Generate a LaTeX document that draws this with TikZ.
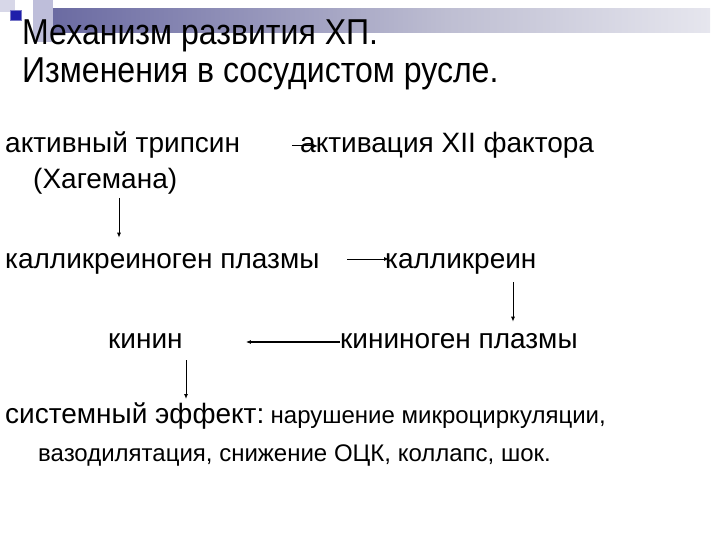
\documentclass[tikz,border=0pt]{standalone}
\usepackage{fontspec}
\setmainfont{Liberation Sans}
\newfontfamily\ttlfont[FakeStretch=0.89]{Liberation Sans}
\usetikzlibrary{arrows.meta,calc}
\definecolor{bc1}{RGB}{40,40,120}
\definecolor{bc2}{RGB}{120,120,170}
\definecolor{bc3}{RGB}{190,190,210}
\definecolor{bc4}{RGB}{240,240,245}
\definecolor{lav1}{RGB}{215,215,232}
\definecolor{lav2}{RGB}{190,190,218}
\definecolor{sqfill}{RGB}{30,30,170}
\definecolor{sqedge}{RGB}{120,120,200}
\pgfdeclarehorizontalshading{barshade}{100bp}{color(0bp)=(bc1); color(30bp)=(bc2); color(55bp)=(bc3); color(80bp)=(bc4); color(100bp)=(white)}
\begin{document}
\begin{tikzpicture}[x=1pt,y=-1pt,
  ttl/.style={inner sep=0pt, anchor=base west, font=\ttlfont\fontsize{36}{42}\selectfont},
  txt/.style={inner sep=0pt, anchor=base west, font=\fontsize{28}{33}\selectfont},
  sml/.style={inner sep=0pt, anchor=base west, font=\fontsize{24}{29}\selectfont},
  arr/.style={draw=black, line width=1pt, -{Latex[length=5pt,width=4pt]}}]
\useasboundingbox (0,0) rectangle (720,540);
% header decoration
\fill[lav1] (0,0) rectangle (15,12);
\fill[lav2] (33,0) rectangle (53,42);
\shade[shading=barshade] (53,9) rectangle (710,33);
\fill[sqfill, draw=sqedge, line width=1pt] (10,11) rectangle (21,21);
% title
\node[ttl] (t1) at (22,45) {Механизм развития ХП.};
\node[ttl] (t2) at (22,83) {Изменения в сосудистом русле.};
% text nodes
\node[txt] (tryp) at (5,153) {активный трипсин};
\node[txt] (act) at (300,153) {активация XII фактора};
\node[txt] (hag) at (33,189) {(Хагемана)};
\node[txt] (kal) at (5,268) {калликреиноген плазмы};
\node[txt] (kalr) at (385,268) {калликреин};
\node[txt] (kin) at (108,348) {кинин};
\node[txt] (kinog) at (340,348) {кининоген плазмы};
\node[txt] (sys) at (5,423) {системный эффект:};
\node[sml] (nar) at ([xshift=6pt]sys.base east) {нарушение микроциркуляции,};
\node[sml] (vaso) at (38,461) {вазодилятация, снижение ОЦК, коллапс, шок.};
% connectors
\coordinate (x2) at (119,0);
\coordinate (x4) at (513,0);
\coordinate (x6) at (186,0);
\draw[arr] ([shift={(-8pt,7pt)}]act.base west) -- ([shift={(18pt,7pt)}]act.base west);
\draw[arr] ([yshift=-3pt]hag.south -| x2) -- ([yshift=15pt]kal.north -| x2);
\draw[arr] ([shift={(-38pt,9pt)}]kalr.base west) -- ([shift={(4pt,9pt)}]kalr.base west);
\draw[arr] ([yshift=-8pt]kalr.south -| x4) -- ([yshift=11pt]kinog.north -| x4);
\draw[arr, line width=1.3pt] ([yshift=6pt]kinog.base west) -- ([shift={(63pt,6pt)}]kin.base east);
\draw[arr] ([yshift=-12pt]kin.south -| x6) -- ([yshift=3pt]sys.north -| x6);
\end{tikzpicture}
\end{document}
